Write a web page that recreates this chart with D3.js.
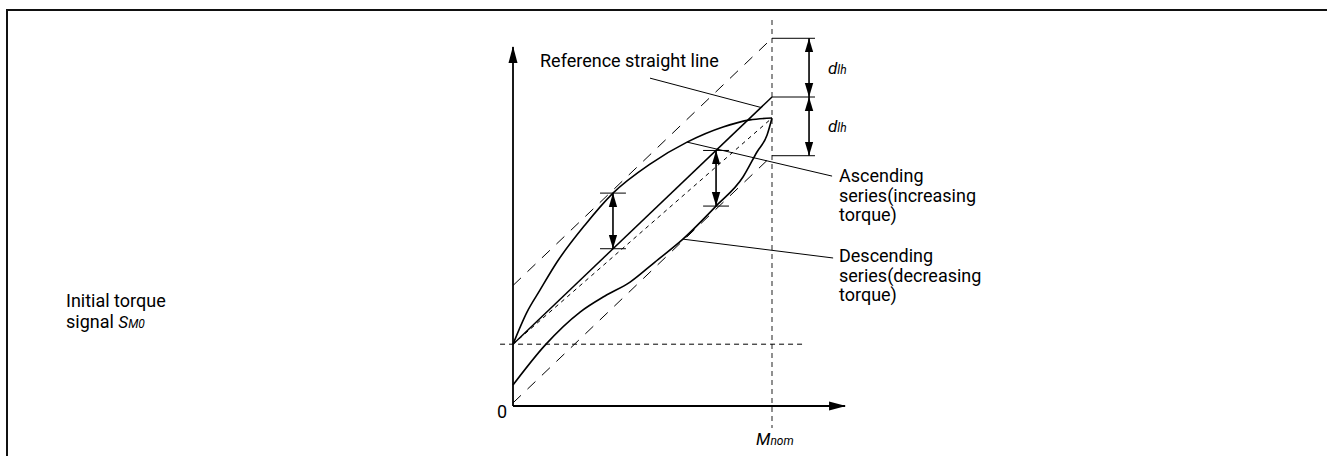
<!DOCTYPE html>
<html>
<head>
<meta charset="utf-8">
<script src="https://cdn.jsdelivr.net/npm/d3@7"></script>
<style>
  html, body { margin: 0; padding: 0; background: #fff; }
  svg { display: block; font-family: Roboto, "Noto Sans", sans-serif; }
</style>
</head>
<body>
<div id="chart"></div>
<script>
const width = 1327, height = 456;

// torque as a fraction of M_nom, signal as a fraction of the reference-line signal at M_nom
const initialSignal = 0.2;
const dlh = 0.19;

const ascendingTorque = [0, 0.054, 0.104, 0.170, 0.278, 0.386, 0.529, 0.672, 0.811, 0.915, 1];
const ascendingSignal = [0.2, 0.304, 0.375, 0.466, 0.586, 0.689, 0.783, 0.854, 0.903, 0.926, 0.932];

const descendingTorque = [0, 0.124, 0.259, 0.355, 0.452, 0.548, 0.656, 0.784, 0.888, 0.942, 0.981, 1];
const descendingSignal = [0.068, 0.197, 0.304, 0.356, 0.401, 0.466, 0.54, 0.647, 0.741, 0.822, 0.877, 0.932];

// hysteresis markers: torque, from signal, to signal
const hystTorque = [0.386, 0.784];
const hystFrom = [0.689, 0.827];
const hystTo = [0.509, 0.647];

const axisEndTorque = 1.282, axisEndSignal = 1.162;

const labelsAscending = ["Ascending", "series(increasing", "torque)"];
const labelsDescending = ["Descending", "series(decreasing", "torque)"];
const labelsInitial = ["Initial torque", "signal "];

const x = d3.scaleLinear().domain([0, 1]).range([513, 772]);
const y = d3.scaleLinear().domain([0, 1]).range([406, 97]);

const svg = d3.select("#chart").append("svg")
  .attr("width", width)
  .attr("height", height);

// frame
svg.append("rect")
  .attr("x", 7).attr("y", 10)
  .attr("width", 1400).attr("height", 500)
  .attr("fill", "none")
  .attr("stroke", "#111")
  .attr("stroke-width", 2);

const defs = svg.append("defs");
defs.append("marker")
  .attr("id", "axisHead")
  .attr("markerUnits", "userSpaceOnUse")
  .attr("markerWidth", 18).attr("markerHeight", 10)
  .attr("refX", 16).attr("refY", 5)
  .attr("orient", "auto")
  .append("path").attr("d", "M0,0.5 L17,5 L0,9.5 Z").attr("fill", "#000");
defs.append("marker")
  .attr("id", "head")
  .attr("markerUnits", "userSpaceOnUse")
  .attr("markerWidth", 15).attr("markerHeight", 10)
  .attr("refX", 14).attr("refY", 5)
  .attr("orient", "auto-start-reverse")
  .append("path").attr("d", "M0,0.8 L14,5 L0,9.2 Z").attr("fill", "#000");

const line = d3.line().x(d => x(d[0])).y(d => y(d[1]));

function seg(x1, y1, x2, y2) {
  return svg.append("line")
    .attr("x1", x(x1)).attr("y1", y(y1))
    .attr("x2", x(x2)).attr("y2", y(y2))
    .attr("stroke", "#000");
}

// M_nom vertical dashed line
seg(1, 1.249, 1, -0.071)
  .attr("stroke", "#555").attr("stroke-width", 1.3).attr("stroke-dasharray", "5,4");

// initial signal horizontal dashed line
seg(-0.05, initialSignal, 1.12, initialSignal)
  .attr("stroke-width", 1).attr("stroke-dasharray", "5,4");

// parallel envelope lines
seg(0, initialSignal + dlh, 1, 1 + dlh).attr("stroke-width", 1).attr("stroke-dasharray", "11,9");
seg(0, initialSignal - dlh, 1, 1 - dlh).attr("stroke-width", 1).attr("stroke-dasharray", "11,9");

// line through start and end points
seg(0, initialSignal, 1, ascendingSignal[ascendingSignal.length - 1])
  .attr("stroke-width", 1).attr("stroke-dasharray", "4,4");

// reference straight line
seg(0, initialSignal, 1, 1).attr("stroke-width", 1.5);

// curves
svg.append("path")
  .datum(d3.zip(ascendingTorque, ascendingSignal))
  .attr("d", line.curve(d3.curveMonotoneX))
  .attr("fill", "none").attr("stroke", "#000").attr("stroke-width", 1.6);
svg.append("path")
  .datum(d3.zip(descendingTorque, descendingSignal))
  .attr("d", line.curve(d3.curveMonotoneX))
  .attr("fill", "none").attr("stroke", "#000").attr("stroke-width", 1.6);

// axes
seg(0, 0, axisEndTorque, 0).attr("stroke-width", 1.8).attr("marker-end", "url(#axisHead)");
seg(0, 0, 0, axisEndSignal).attr("stroke-width", 1.8).attr("marker-end", "url(#axisHead)");

// hysteresis double arrows
hystTorque.forEach((t, i) => {
  seg(t - 0.05, hystFrom[i], t + 0.05, hystFrom[i]).attr("stroke-width", 1);
  seg(t - 0.05, hystTo[i], t + 0.05, hystTo[i]).attr("stroke-width", 1);
  seg(t, hystFrom[i], t, hystTo[i]).attr("stroke-width", 1.6)
    .attr("marker-start", "url(#head)").attr("marker-end", "url(#head)");
});

// dlh dimension arrows
const dimTorque = 1.143;
[1 + dlh, 1, 1 - dlh].forEach(v => seg(1, v, 1.166, v).attr("stroke-width", 1));
[[1 + dlh, 1], [1, 1 - dlh]].forEach(p => {
  seg(dimTorque, p[0], dimTorque, p[1]).attr("stroke-width", 1.6)
    .attr("marker-start", "url(#head)").attr("marker-end", "url(#head)");
  const t = svg.append("text")
    .attr("x", x(dimTorque) + 19)
    .attr("y", y((p[0] + p[1]) / 2) + 6)
    .attr("font-style", "italic");
  t.append("tspan").attr("font-size", 17).text("d");
  t.append("tspan").attr("font-size", 12).text("lh");
});

// leader lines
seg(0.529, 1.061, 0.958, 0.966).attr("stroke-width", 1);
seg(0.672, 0.854, 1.232, 0.744).attr("stroke-width", 1);
seg(0.656, 0.54, 1.236, 0.479).attr("stroke-width", 1);

// texts
svg.append("text").attr("x", 540).attr("y", 67)
  .attr("font-size", 18).text("Reference straight line");

function block(lines, x0, y0) {
  svg.append("g").selectAll("text").data(lines).join("text")
    .attr("x", x0).attr("y", (d, i) => y0 + i * 19.5)
    .attr("font-size", 18).text(d => d);
}
block(labelsAscending, 839, 182);
block(labelsDescending, 839, 262);

const init = svg.append("g");
init.selectAll("text").data(labelsInitial).join("text")
  .attr("x", 66).attr("y", (d, i) => 307 + i * 21)
  .attr("font-size", 18).text(d => d);
const sm = init.select("text:last-child");
sm.append("tspan").attr("font-style", "italic").attr("font-size", 17).text("S");
sm.append("tspan").attr("font-style", "italic").attr("font-size", 12).text("M0");

svg.append("text").attr("x", x(0) - 6).attr("y", y(0) + 12)
  .attr("text-anchor", "end").attr("font-size", 18).text("0");

const mn = svg.append("text").attr("x", 756).attr("y", 445).attr("font-style", "italic");
mn.append("tspan").attr("font-size", 17).text("M");
mn.append("tspan").attr("font-size", 12).text("nom");
</script>
</body>
</html>
